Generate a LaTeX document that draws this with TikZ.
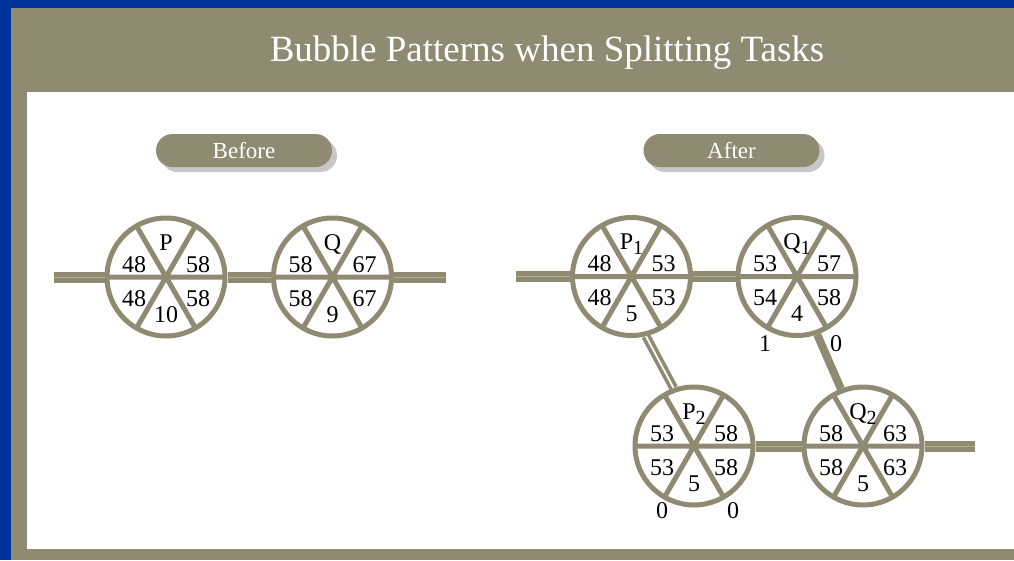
\documentclass[tikz,border=0pt]{standalone}
\usepackage{fontspec}
\setmainfont{Liberation Serif}
\usetikzlibrary{calc, shadows}
\definecolor{khaki}{RGB}{143,138,114}
\definecolor{slideblue}{RGB}{0,51,153}
\newcommand{\sub}[1]{\raisebox{-5pt}{\fontsize{20}{20}\selectfont #1}}
\tikzset{
  ring/.style = {circle, draw=khaki, line width=5pt, minimum size=118pt,
    inner sep=0pt, outer sep=0pt},
  spoke/.style = {draw=khaki, line width=5pt},
  lbl/.style = {inner sep=0pt, anchor=base, font=\fontsize{24}{24}\selectfont},
  pipe/.style = {draw=khaki, line width=5pt, double=khaki!70!white,
    double distance=1pt, shorten <=2.5pt, shorten >=2.5pt},
  link/.style = {draw=khaki, line width=3.6pt, double=white,
    double distance=1.8pt, shorten <=2.5pt, shorten >=2.5pt},
  bar/.style = {draw=khaki, line width=8pt, shorten <=2.5pt, shorten >=2.5pt},
  btn/.style = {rounded corners=16.5pt, fill=khaki, minimum width=176pt,
    minimum height=33pt, inner sep=0pt, text=white,
    font=\fontsize{23}{23}\selectfont,
    drop shadow={shadow xshift=5pt, shadow yshift=-5pt, fill=black!22, opacity=1}},
  pics/bubble/.style n args = {6}{code = {
    \node[ring] (-c) at (0,0) {};
    \draw[spoke] (0:59pt) -- (180:59pt)
      (60:59pt) -- (240:59pt)
      (120:59pt) -- (300:59pt);
    \node[lbl] (-n) at (0,-27) {#1};
    \node[lbl] (-ul) at (-32,-5) {#2};
    \node[lbl] (-ur) at (32,-5) {#3};
    \node[lbl] (-ll) at (-32,29) {#4};
    \node[lbl] (-lr) at (32,29) {#5};
    \node[lbl] (-b) at (0,45) {#6};
  }}
}

\begin{document}
\begin{tikzpicture}[x=1pt, y=-1pt]
  % slide frame
  \fill[slideblue] (0,0) rectangle (1014,560);
  \fill[khaki] (11,8) rectangle (1014,560);
  \fill[white] (27,92) rectangle (1014,549);
  \node[anchor=base, text=white, inner sep=0pt,
    font=\fontsize{37}{37}\selectfont] (title) at (547,61)
    {Bubble Patterns when Splitting Tasks};

  \node[btn] (before) at (244,150.5) {Before};
  \node[btn] (after) at (731.5,150.5) {After};

  % before
  \pic (P) at (166,277) {bubble={P}{48}{58}{48}{58}{10}};
  \pic (Q) at (332.5,277) {bubble={Q}{58}{67}{58}{67}{9}};
  \coordinate (Pin) at (54,277);
  \coordinate (Qout) at (446,277);
  \draw[pipe, shorten <=0pt] (Pin) -- (P-c.west);
  \draw[pipe] (P-c.east) -- (Q-c.west);
  \draw[pipe, shorten >=0pt] (Q-c.east) -- (Qout);

  % after
  \pic (P1) at (631.5,276.5) {bubble={P\sub{1}}{48}{53}{48}{53}{5}};
  \pic (Q1) at (797,276.5) {bubble={Q\sub{1}}{53}{57}{54}{58}{4}};
  \pic (P2) at (694,446) {bubble={P\sub{2}}{53}{58}{53}{58}{5}};
  \pic (Q2) at (863,446) {bubble={Q\sub{2}}{58}{63}{58}{63}{5}};
  \coordinate (P1in) at (516,276.5);
  \coordinate (Q2out) at (975,446);
  \draw[pipe, shorten <=0pt] (P1in) -- (P1-c.west);
  \draw[pipe] (P1-c.east) -- (Q1-c.west);
  \draw[pipe] (P2-c.east) -- (Q2-c.west);
  \draw[pipe, shorten >=0pt] (Q2-c.east) -- (Q2out);
  \draw[link] (P1-c.-77) -- (P2-c.109);
  \draw[bar] (Q1-c.-71) -- (Q2-c.111);

  \node[lbl] (q1a) at ($(Q1-c)+(-32,75)$) {1};
  \node[lbl] (q1b) at ($(Q1-c)+(39,75)$) {0};
  \node[lbl] (p2a) at ($(P2-c)+(-32,72)$) {0};
  \node[lbl] (p2b) at ($(P2-c)+(39,72)$) {0};
\end{tikzpicture}
\end{document}
